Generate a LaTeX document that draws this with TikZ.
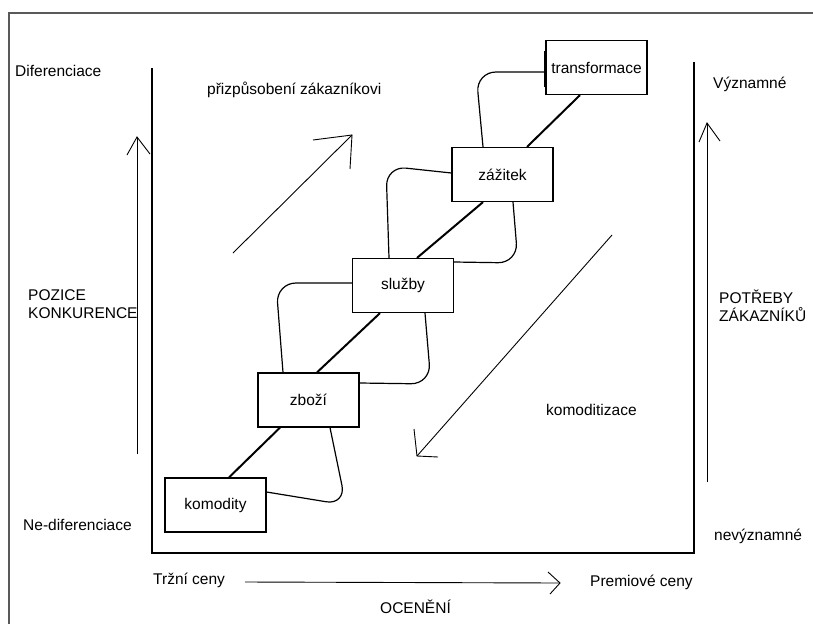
\documentclass[tikz,border=0pt]{standalone}
\usepackage{fontspec}
\setmainfont{Liberation Sans}
\begin{document}
\begin{tikzpicture}[x=1pt,y=-1pt,
  lbl/.style={anchor=west, inner sep=0pt, font=\fontsize{15.5}{18}\selectfont},
  stage/.style={draw, line width=1.2pt, minimum width=101pt, minimum height=54pt,
                inner sep=0pt, font=\fontsize{15.5}{18}\selectfont},
  link/.style={line width=2pt},
  loopline/.style={line width=1.2pt, rounded corners=20pt},
  arr/.style={line width=0.9pt},
  frame/.style={line width=1.6pt, black!65}]
  \fill[white] (0,0) rectangle (813,624);
  \useasboundingbox (0,0) rectangle (813,624);

  % outer frame (open on the right and bottom)
  \draw[frame] (813,13) -- (9,13) -- (9,624);

  % axes box, open at the top
  \draw[line width=1.2pt] (152,68) -- (152,553) -- (694,553) -- (694,62);

  % stages
  \node[stage] (tr) at (596.5,67.5) {transformace};
  \node[stage] (za) at (502.5,174.5) {zážitek};
  \node[stage] (sl) at (403,285.5) {služby};
  \node[stage] (zb) at (308.5,400) {zboží};
  \node[stage] (ko) at (215.5,505) {komodity};
  \draw[line width=2.2pt] ([yshift=-19.5pt]tr.west) -- ([yshift=16.5pt]tr.west);

  % diagonal links between stages
  \draw[link] ([xshift=-16.5pt]tr.south) -- ([xshift=24.5pt]za.north);
  \draw[link] ([xshift=-19.5pt]za.south) -- ([xshift=14pt]sl.north);
  \draw[link] ([xshift=-23pt]sl.south) -- ([xshift=8.5pt]zb.north);
  \draw[link] ([xshift=-28.5pt]zb.south) -- ([xshift=13.5pt]ko.north);

  % loops on the left side
  \draw[loopline] ([yshift=-4.5pt]tr.west) -- (476,72) -- ([xshift=-19.5pt]za.north);
  \draw[loopline] ([yshift=1.5pt]za.west) -- (386,166) -- ([xshift=-14pt]sl.north);
  \draw[loopline] ([yshift=2.5pt]sl.west) -- (276,283) -- ([xshift=-25.5pt]zb.north);

  % loops on the right side
  \draw[loopline] ([xshift=10.5pt]za.south) -- (518,263) -- ([yshift=23.5pt]sl.east);
  \draw[loopline] ([xshift=22pt]sl.south) -- (431,384) -- ([yshift=17pt]zb.east);
  \draw[loopline] ([xshift=21.5pt]zb.south) -- (346,505) -- ([yshift=13pt]ko.east);

  % diagonal trend arrows
  \draw[arr] (233,253) -- (352,135);
  \draw[arr] (313,140) -- (352,135) -- (350,169);
  \draw[arr] (612,235) -- (417,456);
  \draw[arr] (414,429) -- (417,456) -- (438,457);

  % axis arrows
  \draw[arr] (137,454) -- (137,137);
  \draw[arr] (127,155) -- (137,137) -- (150,154);
  \draw[arr] (707,482) -- (707,123);
  \draw[arr] (699,142) -- (707,123) -- (720,141);
  \draw[arr] (245,582) -- (560,583);
  \draw[arr] (548,572) -- (560,583) -- (550,594);

  % labels
  \node[lbl] (dif) at (15,71) {Diferenciace};
  \node[lbl, align=left] (poz) at (28,304) {POZICE\\KONKURENCE};
  \node[lbl] (ndif) at (23,525) {Ne-diferenciace};
  \node[lbl] (vyz) at (713,84) {Významné};
  \node[lbl, align=left] (pot) at (719,306) {POTŘEBY\\ZÁKAZNÍKŮ};
  \node[lbl] (nvyz) at (714,536) {nevýznamné};
  \node[lbl] (trz) at (153,580) {Tržní ceny};
  \node[lbl] (prem) at (590,582) {Premiové ceny};
  \node[lbl] (oc) at (380,607) {OCENĚNÍ};
  \node[lbl] (priz) at (207,90) {přizpůsobení zákazníkovi};
  \node[lbl] (kom) at (546,410) {komoditizace};
\end{tikzpicture}
\end{document}
